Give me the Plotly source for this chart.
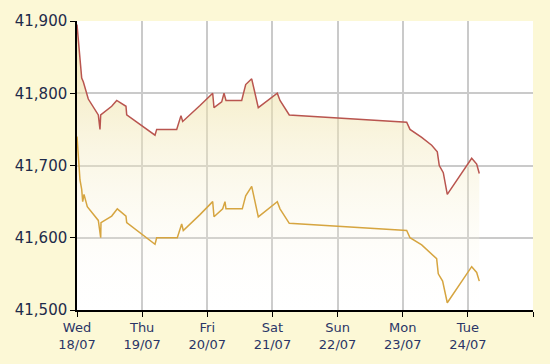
import plotly.graph_objects as go

# hours since Wed 18/07 00:00
sell_hours = [0, 1.73, 2.32, 3.32, 4.16, 7.85, 8.47, 8.73, 12.78, 14.63, 18.05, 18.31,
              28.74, 29.36, 36.73, 38.31, 38.94, 45.31, 49.99, 50.47, 53.31, 54.16,
              54.89, 60.68, 62.15, 64.36, 66.79, 73.79, 74.79, 78.21, 121.46, 122.68,
              126.99, 130.67, 132.74, 133.47, 134.95, 136.42, 145.41, 147.25, 148.21]
sell_values = [41895, 41821, 41816, 41803, 41792, 41770, 41750, 41770, 41782, 41790, 41782, 41770,
               41742, 41750, 41750, 41769, 41761, 41783, 41800, 41780, 41788, 41800,
               41790, 41790, 41812, 41820, 41780, 41800, 41790, 41770, 41760, 41750,
               41739, 41728, 41719, 41700, 41690, 41660, 41710, 41702, 41689]

buy_hours = [0, 1.1, 1.73, 2.1, 2.58, 3.79, 7.85, 8.73, 8.84, 12.78, 14.85, 18.05, 18.31,
             28.74, 29.36, 36.95, 38.57, 39.16, 45.31, 49.99, 50.47, 53.68, 54.52,
             54.89, 60.9, 62.15, 64.36, 66.79, 73.79, 74.79, 78.21, 121.46, 122.68,
             126.99, 132.5, 133.1, 134.7, 136.42, 145.41, 147.25, 148.21]
buy_values = [41740, 41680, 41667, 41650, 41660, 41643, 41624, 41600, 41621, 41630, 41640, 41630, 41621,
              41591, 41600, 41600, 41619, 41610, 41632, 41650, 41629, 41640, 41650,
              41640, 41640, 41658, 41671, 41629, 41650, 41640, 41620, 41610, 41600,
              41590, 41571, 41550, 41540, 41510, 41560, 41552, 41540]

x_tick_hours = [0, 24, 48, 72, 96, 120, 144, 168]
x_tick_labels = ["Wed<br>18/07", "Thu<br>19/07", "Fri<br>20/07", "Sat<br>21/07",
                 "Sun<br>22/07", "Mon<br>23/07", "Tue<br>24/07", ""]
y_tick_values = [41500, 41600, 41700, 41800, 41900]
y_tick_labels = ["41,500", "41,600", "41,700", "41,800", "41,900"]

fig = go.Figure()
fig.add_trace(go.Scatter(
    x=sell_hours, y=sell_values, mode="lines",
    line=dict(color="#B9554F", width=1.5),
    fill="tozeroy",
    fillgradient=dict(type="vertical", start=41500, stop=41830,
                      colorscale=[[0, "rgba(255,255,255,0)"], [1, "rgba(238,224,160,0.6)"]]),
    hoverinfo="skip", showlegend=False))
fig.add_trace(go.Scatter(
    x=buy_hours, y=buy_values, mode="lines",
    line=dict(color="#D6A540", width=1.5),
    hoverinfo="skip", showlegend=False))

fig.update_layout(
    width=550, height=364,
    margin=dict(l=77, r=17, t=13, b=47),
    paper_bgcolor="#FCF8D6", plot_bgcolor="#FFFFFF",
    font=dict(family="DejaVu Sans", color="#1E2B4A"),
)
fig.update_xaxes(range=[0, 168], tickvals=x_tick_hours, ticktext=x_tick_labels,
                 showgrid=True, gridcolor="#CACACA", gridwidth=1.5,
                 showline=True, linecolor="#000000", linewidth=1.5,
                 ticks="outside", ticklen=5, tickcolor="#000000",
                 tickfont=dict(size=13, color="#2A3566"), zeroline=False)
fig.update_yaxes(range=[41500, 41900], tickvals=y_tick_values, ticktext=y_tick_labels,
                 showgrid=True, gridcolor="#CACACA", gridwidth=1.5,
                 showline=True, linecolor="#000000", linewidth=1.5,
                 ticks="outside", ticklen=5, tickcolor="#000000",
                 tickfont=dict(size=15, color="#1E2B4A"), zeroline=False)

fig.write_html("out.html")
